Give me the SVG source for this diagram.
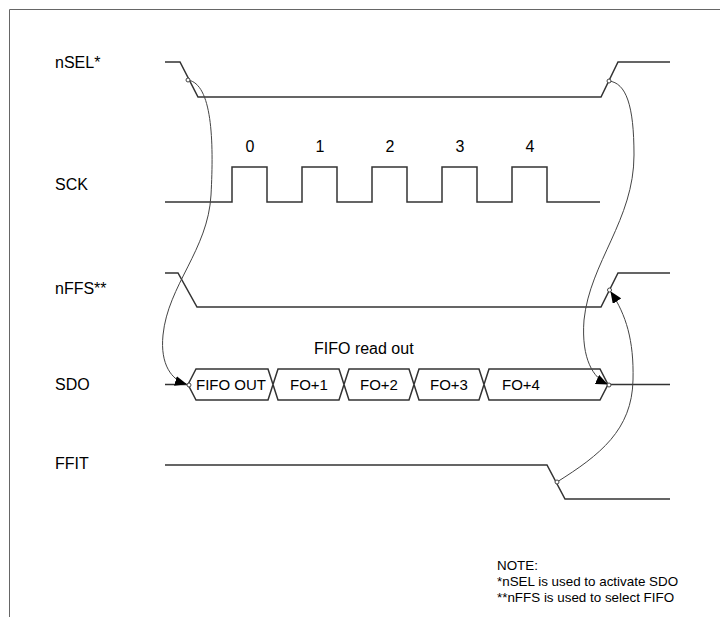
<svg xmlns="http://www.w3.org/2000/svg" width="720" height="617" viewBox="0 0 720 617">
<defs>
<marker id="arr" viewBox="0 0 12 10" refX="11" refY="5" markerWidth="12" markerHeight="10" markerUnits="userSpaceOnUse" orient="auto">
<path d="M0,0 L12,5 L0,10 Z" fill="#000"/>
</marker>
</defs>
<style>
.sig{fill:none;stroke:#333;stroke-width:1.5;stroke-linejoin:miter}
.cur{fill:none;stroke:#444;stroke-width:1}
.dot{fill:#fff;stroke:#444;stroke-width:1}
.lbl{font-family:"Liberation Sans",Arial,sans-serif;font-size:16px;fill:#000}
.bt{font-family:"Liberation Sans",Arial,sans-serif;font-size:15px;fill:#000}
.note{font-family:"Liberation Sans",Arial,sans-serif;font-size:13.4px;fill:#000}
</style>
<rect width="720" height="617" fill="#fff"/>
<path d="M9.5,617 L9.5,9.5 L720,9.5" fill="none" stroke="#666" stroke-width="1"/>

<g id="nSEL">
<text class="lbl" x="55" y="68">nSEL*</text>
<path class="sig" d="M165,62 L180,62 L198,97 L601,97 L618,62 L670,62"/>
</g>
<g id="SCK">
<text class="lbl" x="55" y="190">SCK</text>
<path class="sig" d="M165,202 L232,202 L232,167 L267,167 L267,202 L302,202 L302,167 L337,167 L337,202 L372,202 L372,167 L407,167 L407,202 L442,202 L442,167 L477,167 L477,202 L512,202 L512,167 L547,167 L547,202 L600,202"/>
<text class="lbl" x="250" y="152" text-anchor="middle">0</text>
<text class="lbl" x="320" y="152" text-anchor="middle">1</text>
<text class="lbl" x="390" y="152" text-anchor="middle">2</text>
<text class="lbl" x="460" y="152" text-anchor="middle">3</text>
<text class="lbl" x="530" y="152" text-anchor="middle">4</text>
</g>
<g id="nFFS">
<text class="lbl" x="55" y="294">nFFS**</text>
<path class="sig" d="M165,273 L178,273 L197,307 L601,307 L618,273 L670,273"/>
</g>
<g id="SDO">
<text class="lbl" x="55" y="390">SDO</text>
<path class="sig" d="M165,384.5 L188,384.5"/>
<path class="sig" d="M608,384.5 L670,384.5"/>
<path class="sig" d="M188,384.5 L196,369 L268,369 L278,400 L339,400 L349,369 L409,369 L419,400 L479,400 L489,369 L600,369 L608,384.5 L600,400 L489,400 L479,369 L419,369 L409,400 L349,400 L339,369 L278,369 L268,400 L196,400 Z"/>
<text class="bt" x="231" y="390" text-anchor="middle">FIFO OUT</text>
<text class="bt" x="309" y="390" text-anchor="middle">FO+1</text>
<text class="bt" x="379" y="390" text-anchor="middle">FO+2</text>
<text class="bt" x="449" y="390" text-anchor="middle">FO+3</text>
<text class="bt" x="502" y="390">FO+4</text>
<text class="lbl" x="314" y="354" font-size="18">FIFO read out</text>
</g>
<g id="FFIT">
<text class="lbl" x="55" y="469">FFIT</text>
<path class="sig" d="M165,465 L547,465 L565,499 L670,499"/>
</g>

<g id="connectors">
<path class="cur" d="M188,80 C212,84 214,140 211,195 C208,250 168,285 163,335 C160,365 172,380 186,384" marker-end="url(#arr)"/>
<path class="cur" d="M609,81 C626,83 634,105 634,155 C634,220 590,262 584,320 C581,360 594,378 607,384" marker-end="url(#arr)"/>
<path class="cur" d="M557,482 C600,455 632,430 633,380 C634,340 626,315 611,292" marker-end="url(#arr)"/>
<circle class="dot" cx="188" cy="80" r="2"/>
<circle class="dot" cx="609" cy="81" r="2"/>
<circle class="dot" cx="609.5" cy="290" r="2"/>
<circle class="dot" cx="189" cy="385" r="2"/>
<circle class="dot" cx="609" cy="385" r="2"/>
<circle class="dot" cx="557" cy="482" r="2"/>
</g>

<g id="note">
<text class="note" x="497" y="570">NOTE:</text>
<text class="note" x="497" y="586">*nSEL is used to activate SDO</text>
<text class="note" x="497" y="602">**nFFS is used to select FIFO</text>
</g>
</svg>
